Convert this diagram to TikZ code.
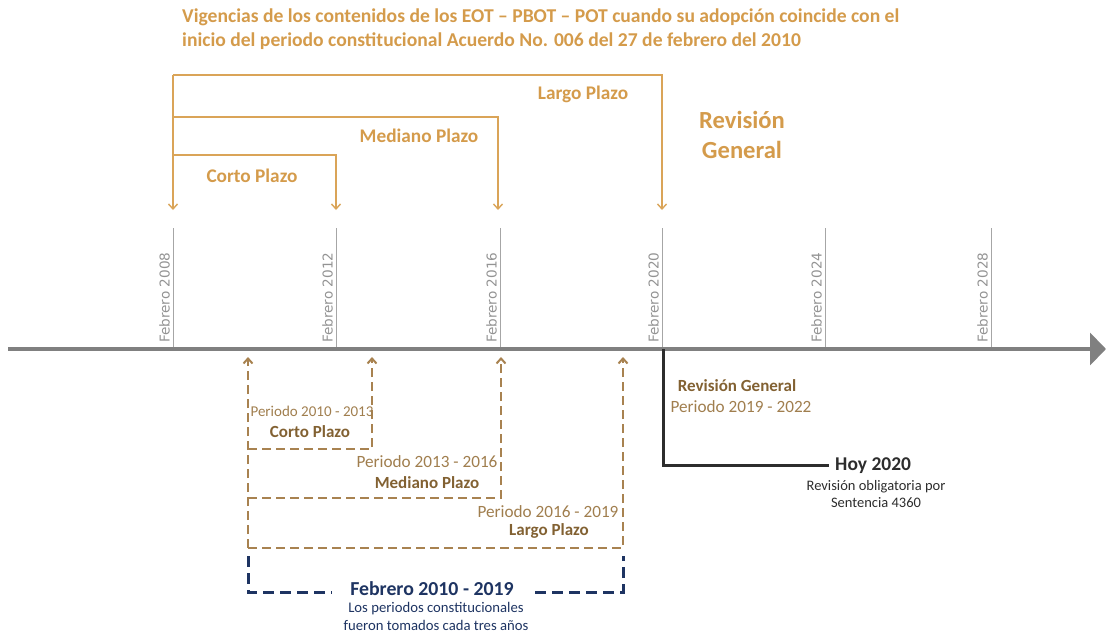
\documentclass[tikz,border=0pt]{standalone}
\usepackage{fontspec}
\setmainfont{Carlito}
\newfontfamily\tickfont{DejaVu Sans}
\usetikzlibrary{arrows.meta}
\definecolor{oro}{RGB}{218,164,88}
\definecolor{orotxt}{RGB}{212,155,75}
\definecolor{cafe}{RGB}{130,97,50}
\definecolor{cafeclaro}{RGB}{160,126,78}
\definecolor{linea}{RGB}{168,130,80}
\definecolor{azul}{RGB}{30,52,98}
\definecolor{gris}{RGB}{128,128,128}
\definecolor{oscuro}{RGB}{45,45,45}
\begin{document}
\begin{tikzpicture}
  [x=1pt,y=-1pt,every node/.style={inner sep=0pt}]
  \tikzstyle{gold} = [draw=oro, line width=1.4pt, -{Straight Barb[length=5pt,width=9pt]}]
  \tikzstyle{periodo} = [draw=linea, line width=2pt, dash pattern=on 9pt off 5pt, -{Straight Barb[length=5pt,width=9pt]}]
  \tikzstyle{tick} = [draw=gris!70, line width=1pt]
  \tikzstyle{ticklabel} = [rotate=90, anchor=south west, text=gris!85, font=\tickfont\fontsize{13.6}{16}\selectfont]
  \tikzstyle{plazo} = [text=orotxt, font=\bfseries\fontsize{19.3}{22}\selectfont]
  \tikzstyle{per} = [text=cafeclaro, font=\fontsize{17.2}{20}\selectfont]
  \tikzstyle{perbold} = [text=cafe, font=\bfseries\fontsize{17}{20}\selectfont]
  \useasboundingbox (0,0) rectangle (1106,635);

  % titulo
  \node[text=orotxt, font=\bfseries\fontsize{19.6}{24}\selectfont, anchor=north west, align=left] (titulo) at (182,9)
    {Vigencias de los contenidos de los EOT -- PBOT -- POT cuando su adopción coincide con el\\
     inicio del periodo constitucional Acuerdo No. 006 del 27 de febrero del 2010};

  % linea de tiempo
  \coordinate (ini) at (8,349);
  \coordinate (fin) at (1106,349);
  \draw[draw=gris, line width=4pt, -{Triangle[length=16pt,width=32pt]}] (ini) -- (fin);

  \foreach \x/\anio/\n in {173/2008/a,336/2012/b,500/2016/c,662/2020/d,825/2024/e,991/2028/f} {
    \coordinate (t\n) at (\x,228);
    \coordinate (b\n) at (\x,347);
    \draw[tick] (t\n) -- (b\n);
    \node[ticklabel] (l\n) at (\x-3,343) {Febrero \anio};
  }

  % plazos segun el acuerdo
  \coordinate (origen) at (173,75);
  \coordinate (origenfin) at (173,210);
  \draw[gold] (origen) -- (origenfin);
  \foreach \y/\x/\n in {75/662/largo,117/498/mediano,155/336/corto} {
    \coordinate (\n top) at (173,\y);
    \coordinate (\n end) at (\x,210);
    \draw[gold] (\n top) -| (\n end);
  }
  \node[plazo] (largo) at (583,94) {Largo Plazo};
  \node[plazo] (mediano) at (419,136) {Mediano Plazo};
  \node[plazo] (corto) at (252,176) {Corto Plazo};
  \node[text=orotxt, font=\bfseries\fontsize{24.6}{30}\selectfont, align=center] (revision) at (742,135) {Revisión\\General};

  % periodos constitucionales
  \coordinate (pini) at (248,548);
  \coordinate (pfin) at (248,357);
  \draw[periodo] (pini) -- (pfin);
  \foreach \y/\x/\n in {449/372/pc,498/501/pm,548/623/pl} {
    \coordinate (\n a) at (248,\y);
    \coordinate (\n b) at (\x,357);
    \draw[periodo] (\n a) -| (\n b);
  }
  \node[per, font=\fontsize{15}{18}\selectfont] (per1) at (312,411) {Periodo 2010 - 2013};
  \node[perbold] (cp) at (310,432) {Corto Plazo};
  \node[per] (per2) at (427,462) {Periodo 2013 - 2016};
  \node[perbold] (mp) at (427,483) {Mediano Plazo};
  \node[per] (per3) at (548,512) {Periodo 2016 - 2019};
  \node[perbold] (lp) at (549,531) {Largo Plazo};

  % febrero 2010 - 2019
  \coordinate (azula) at (248,556);
  \coordinate (azulb) at (623,556);
  \draw[draw=azul, line width=3pt, dash pattern=on 11pt off 6pt] (azula) |- (azulb |- 0,592) -- (azulb);
  \node[fill=white, inner xsep=18pt, inner ysep=0pt, text=azul, font=\bfseries\fontsize{19.8}{22}\selectfont] (feb) at (432,589) {Febrero 2010 - 2019};
  \node[text=azul, font=\fontsize{14.7}{18}\selectfont, align=center, anchor=north] (nota) at (436,602)
    {Los periodos constitucionales\\fueron tomados cada tres años};

  % revision general y hoy
  \node[perbold] (rg) at (737,386) {Revisión General};
  \node[per] (rgper) at (741,407) {Periodo 2019 - 2022};
  \coordinate (hoyini) at (663,349);
  \coordinate (hoyfin) at (829,465);
  \draw[draw=oscuro, line width=3pt] (hoyini) |- (hoyfin);
  \node[text=oscuro, font=\bfseries\fontsize{19.5}{22}\selectfont, anchor=west] (hoy) at (835,466) {Hoy 2020};
  \node[text=oscuro, font=\fontsize{14.5}{17}\selectfont, align=center, anchor=north] (sentencia) at (876,480)
    {Revisión obligatoria por\\Sentencia 4360};
\end{tikzpicture}
\end{document}
